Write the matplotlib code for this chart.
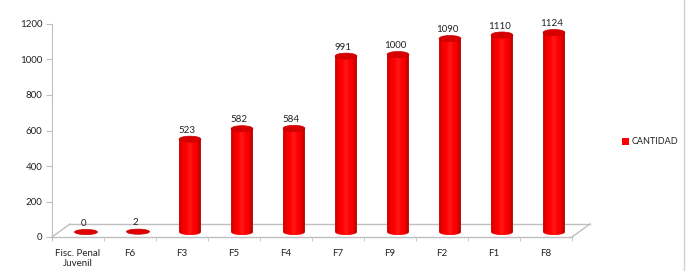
import numpy as np
import matplotlib as mpl
import matplotlib.pyplot as plt
from matplotlib.path import Path
from matplotlib.patches import PathPatch, Ellipse, Rectangle
from matplotlib.colors import LinearSegmentedColormap

mpl.rcParams['font.family'] = ['Lato', 'DejaVu Sans']

categorias = ['Fisc. Penal\nJuvenil', 'F6', 'F3', 'F5', 'F4', 'F7', 'F9', 'F2', 'F1', 'F8']
cantidad = [0, 2, 523, 582, 584, 991, 1000, 1090, 1110, 1124]
serie = 'CANTIDAD'
yticks = [0, 200, 400, 600, 800, 1000, 1200]

W, H = 694, 271
fig = plt.figure(figsize=(W / 100, H / 100), dpi=100)
# ejes: x de 52 a 592 px, y de 24 a 237 px
ax = fig.add_axes([52 / W, (H - 237) / H, 540 / W, 213 / H])
ax.set_xlim(-0.5, -0.5 + 540 / 52)
ax.set_ylim(0, 1200)

# profundidad del suelo 3D
dx = 18 / 52
dy = 13 / 213 * 1200
base = 28          # la base de los cilindros queda a media profundidad
off = 8 / 52       # desplazamiento horizontal de los cilindros
rw = 0.21          # medio ancho del cilindro
rh = 17            # medio alto de la elipse

gris = '#bfbfbf'
ax.plot([-0.5, 9.5], [0, 0], color=gris, lw=1, clip_on=False)
ax.plot([-0.5, -0.5 + dx], [0, dy], color=gris, lw=1, clip_on=False)
ax.plot([9.5, 9.5 + dx], [0, dy], color=gris, lw=1, clip_on=False)
ax.plot([-0.5 + dx, 9.5 + dx], [dy, dy], color=gris, lw=1, clip_on=False)

cmap = LinearSegmentedColormap.from_list(
    'cil', ['#c80000', '#f40000', '#ff0000', '#ff1a1a', '#ff0000', '#ee0000', '#b40000'])
grad = np.linspace(0, 1, 64).reshape(1, -1)

for i, v in enumerate(cantidad):
    cx = i + off
    top = base + v
    if v > 10:
        t = np.linspace(np.pi, 2 * np.pi, 40)
        verts = [(cx - rw, top), (cx - rw, base)]
        verts += list(zip(cx + rw * np.cos(t), base + rh * np.sin(t)))
        verts += [(cx + rw, base), (cx + rw, top), (cx - rw, top)]
        path = Path(verts)
        patch = PathPatch(path, facecolor='none', edgecolor='none')
        ax.add_patch(patch)
        im = ax.imshow(grad, cmap=cmap, aspect='auto',
                       extent=[cx - rw, cx + rw, base - rh, top],
                       zorder=2, clip_on=True)
        im.set_clip_path(patch)
        ax.add_patch(Ellipse((cx, top), 2 * rw, 2 * rh, facecolor='#d60000',
                             edgecolor='#c80000', lw=0.5, zorder=3))
    else:
        ax.add_patch(Ellipse((cx, top), 2 * rw * 1.05, 2 * rh * 0.85,
                             facecolor='#e00000', edgecolor='#c00000',
                             lw=0.5, zorder=3))
    ax.text(cx - 0.05, top + rh + 8, str(v), ha='center', va='bottom',
            fontsize=7, color='#222222', zorder=4)

ax.set_xticks(range(len(categorias)))
ax.set_xticklabels(categorias, fontsize=7, color='#222222', linespacing=1.05)
ax.set_xticks(np.arange(-0.5, 10, 1), minor=True)
ax.tick_params(axis='x', which='major', length=0, pad=9)
ax.tick_params(axis='x', which='minor', length=3, color=gris, direction='out')
ax.set_yticks(yticks)
ax.tick_params(axis='y', labelsize=7, length=4, color=gris, labelcolor='#222222', pad=3)

for s in ['top', 'right', 'bottom']:
    ax.spines[s].set_visible(False)
ax.spines['left'].set_color(gris)
ax.spines['left'].set_bounds(-12, 1200)

# leyenda
fig.patches.append(Rectangle((622 / W, (H - 145) / H), 7 / W, 7 / H,
                             transform=fig.transFigure, facecolor='#ff0000',
                             edgecolor='none'))
fig.text(632 / W, (H - 141.5) / H, serie, fontsize=6.5, va='center', color='#222222')

# borde derecho del grafico
fig.lines.append(plt.Line2D([684 / W, 684 / W], [0, 1], transform=fig.transFigure,
                            color='#d0d0d0', lw=1))

fig.savefig('out.png', dpi=100)
